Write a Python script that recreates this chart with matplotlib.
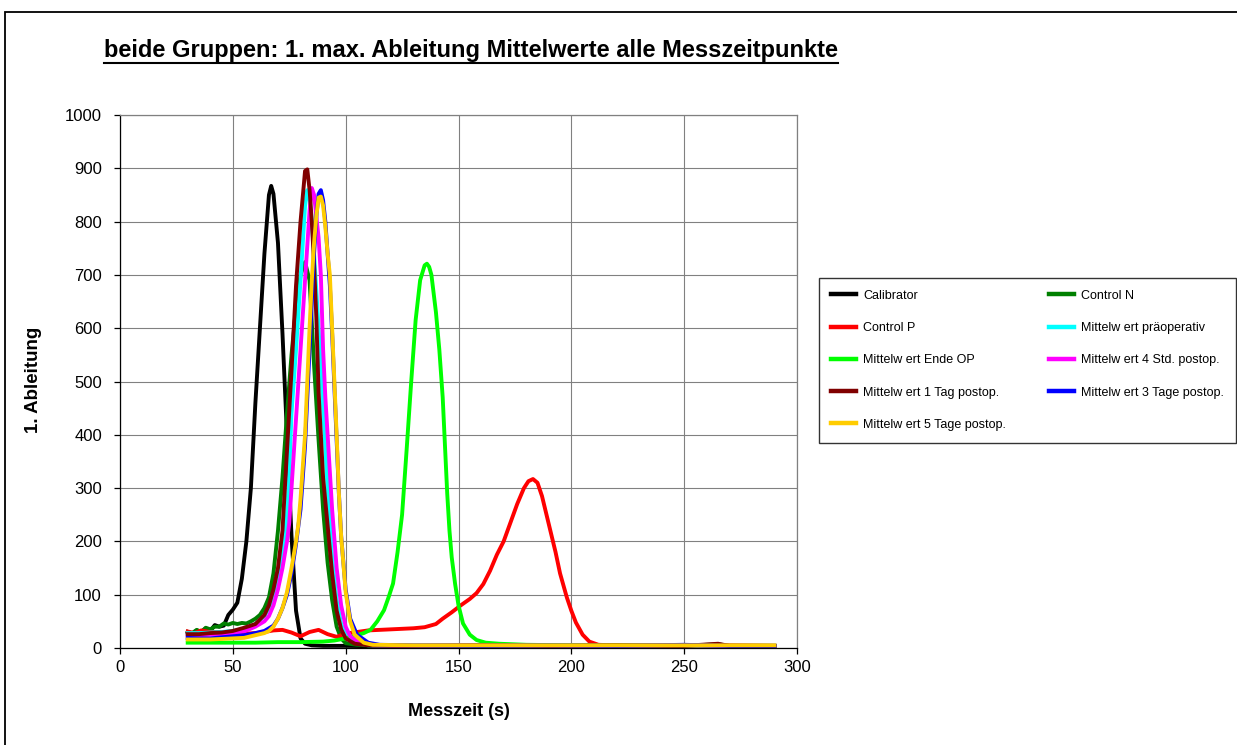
import matplotlib
matplotlib.use("Agg")
import matplotlib.pyplot as plt
from matplotlib.patches import Rectangle
from matplotlib.lines import Line2D

plt.rcParams['font.family'] = ['Liberation Sans', 'DejaVu Sans']

# ---------------- data ----------------
t_cal = [30,32,34,36,38,40,42,44,46,48,50,52,54,56,58,60,62,64,66,67,68,70,72,74,76,78,80,82,85,90,100,120,150,180,210,240,270,290]
v_cal = [30,26,33,30,37,32,43,40,42,62,72,85,130,200,300,460,600,740,850,867,852,760,590,400,210,70,18,8,5,4,4,3,4,3,4,3,3,3]

t_cn = [30,32,34,36,38,40,42,44,46,48,50,52,54,56,58,60,62,64,66,68,70,72,74,76,78,80,82,84,86,88,90,92,94,96,98,100,105,110,130,160,190,220,250,265,270,290]
v_cn = [30,28,34,30,38,35,40,40,46,44,47,45,47,46,50,55,62,75,95,140,220,320,440,550,640,700,724,690,530,390,260,160,90,40,18,9,6,5,4,5,4,5,4,7,4,4]

t_cp = [30,33,36,40,44,48,52,56,60,64,68,72,76,80,84,88,92,96,100,105,110,115,120,125,130,135,140,143,147,151,155,158,161,164,167,170,173,176,179,181,183,185,187,189,191,193,195,198,200,202,205,208,212,218,230,250,270,290]
v_cp = [31,28,33,30,30,27,30,27,28,30,33,34,29,22,30,34,26,21,27,30,33,34,35,36,37,39,45,55,67,80,92,103,120,145,175,200,235,270,300,313,317,310,285,250,215,180,140,95,70,48,25,12,6,5,4,4,5,4]

t_pr = [30,35,40,45,50,55,60,64,66,68,70,72,74,75,76,78,80,81,82,83,84,85,86,88,90,92,94,96,98,100,104,110,130,160,190,220,250,270,290]
v_pr = [28,28,29,30,32,36,45,60,75,100,125,170,250,330,440,560,690,760,830,859,845,800,740,600,450,300,170,90,45,25,10,5,4,5,4,4,5,4,4]

t_eo = [30,40,50,60,70,80,90,95,100,105,108,111,114,117,119,121,123,125,127,129,131,133,135,136,137,138,140,141.5,143,144,145,146,147,148.5,150,152,155,158,162,168,180,200,230,260,290]
v_eo = [10,10,10,10,11,11,12,14,18,24,28,34,50,71,95,121,180,250,371,497,615,690,718,721,715,700,630,560,470,380,290,220,170,120,80,46,25,15,10,8,6,5,5,4,4]

t_4s = [30,35,40,45,50,55,60,64,66,68,70,72,74,75,76,78,80,82,84,85,86,88,89,90,91,92,94,96,98,100,102,106,112,130,160,190,220,250,270,290]
v_4s = [24,24,25,25,28,31,40,50,60,80,110,150,200,235,300,430,560,690,820,863,850,770,700,560,470,400,260,150,80,40,22,10,5,4,5,4,4,5,4,4]

t_1t = [30,35,40,45,50,55,60,64,66,68,70,72,74,76,78,80,82,83,84,85,86,87,88,90,92,94,96,98,100,104,110,130,160,190,220,250,265,270,290]
v_1t = [26,26,28,29,32,38,45,62,80,110,150,220,370,520,680,800,895,898,860,800,720,620,480,320,230,140,70,35,18,8,5,4,5,4,5,4,8,4,4]

t_3t = [30,35,40,45,50,55,60,64,68,70,72,74,76,78,80,82,84,86,87,88,89,90,91,92,93,94,95,96,97,98,100,102,105,110,115,130,160,190,220,250,270,290]
v_3t = [19,18,18,20,22,24,28,32,42,55,75,100,140,195,260,380,560,740,810,852,859,840,800,740,680,590,490,390,290,210,110,55,25,10,6,5,4,5,4,6,4,4]

t_5t = [30,35,40,45,50,55,60,64,66,68,70,72,74,76,78,79,80,82,83,84,85,86,87,88,89,90,91,92,93,94,95,96,97,98,100,102,104,108,112,130,160,190,220,250,270,290]
v_5t = [16,16,16,17,18,19,24,28,32,40,55,75,105,150,200,231,280,400,500,600,690,760,810,845,847,830,790,740,700,600,500,400,290,210,105,50,25,10,6,5,5,5,5,5,5,5]

series_labels = ["Calibrator", "Control N", "Control P", "Mittelw ert präoperativ",
                 "Mittelw ert Ende OP", "Mittelw ert 4 Std. postop.",
                 "Mittelw ert 1 Tag postop.", "Mittelw ert 3 Tage postop.",
                 "Mittelw ert 5 Tage postop."]
series_colors = ["#000000", "#008000", "#FF0000", "#00FFFF", "#00FF00",
                 "#FF00FF", "#800000", "#0000FF", "#FFCC00"]
series_t = [t_cal, t_cn, t_cp, t_pr, t_eo, t_4s, t_1t, t_3t, t_5t]
series_v = [v_cal, v_cn, v_cp, v_pr, v_eo, v_4s, v_1t, v_3t, v_5t]

x_ticks = [0, 50, 100, 150, 200, 250, 300]
y_ticks = [0, 100, 200, 300, 400, 500, 600, 700, 800, 900, 1000]

title = "beide Gruppen: 1. max. Ableitung Mittelwerte alle Messzeitpunkte"
xlabel = "Messzeit (s)"
ylabel = "1. Ableitung"

# ---------------- figure ----------------
W, H = 1237, 745
fig = plt.figure(figsize=(W / 100, H / 100), dpi=100)
ax = fig.add_axes([120 / W, 1 - 648 / H, (797 - 120) / W, (648 - 115) / H])

for t, v, c, lab in zip(series_t, series_v, series_colors, series_labels):
    ax.plot(t, v, color=c, lw=2.8, label=lab, solid_joinstyle='round')

ax.set_xlim(0, 300)
ax.set_ylim(0, 1000)
ax.set_xticks(x_ticks)
ax.set_yticks(y_ticks)
ax.grid(True, color='#808080', lw=0.8)
ax.set_axisbelow(True)
for s in ['top', 'right']:
    ax.spines[s].set_color('#808080')
    ax.spines[s].set_linewidth(0.9)
for s in ['left', 'bottom']:
    ax.spines[s].set_color('black')
    ax.spines[s].set_linewidth(0.9)
ax.tick_params(axis='both', direction='out', length=4, width=0.9, labelsize=12, colors='black')
ax.tick_params(axis='y', pad=9)
ax.tick_params(axis='x', pad=5)

fig.text(459 / W, 1 - 711 / H, xlabel, ha='center', va='center', fontsize=13, fontweight='bold')
fig.text(33 / W, 1 - 380 / H, ylabel, ha='center', va='center', rotation=90, fontsize=13.5, fontweight='bold')

tt = fig.text(104 / W, 1 - 57 / H, title, ha='left', va='baseline', fontsize=17.05, fontweight='bold')

# legend (row-major order)
order = [0, 2, 4, 6, 8, 1, 3, 5, 7]
handles = [Line2D([], [], color=series_colors[i], lw=3.2) for i in order]
labels = [series_labels[i] for i in order]
x0 = 819 / W
y0 = 1 - 443 / H
leg = fig.legend(handles, labels, loc='upper left',
                 bbox_to_anchor=(x0, y0, 1236 / W - x0, (443 - 278) / H),
                 mode='expand', ncol=2, fontsize=9, frameon=True, fancybox=False,
                 edgecolor='black', borderaxespad=0, borderpad=0.95,
                 labelspacing=1.62, handlelength=2.0, handletextpad=0.6,
                 columnspacing=1.0)
leg.get_frame().set_linewidth(1.0)

# outer chart frame
fig.patches.append(Rectangle((5 / W, -0.05), 1.2, (1 - 12 / H) + 0.05, transform=fig.transFigure,
                             fill=False, ec='black', lw=1.3))

# underline title
fig.canvas.draw()
bb = tt.get_window_extent(fig.canvas.get_renderer())
uy = (H - 63) / H
fig.add_artist(Line2D([bb.x0 / W, bb.x1 / W], [uy, uy], transform=fig.transFigure,
                      color='black', lw=1.5))

fig.savefig("out.png", dpi=100)
